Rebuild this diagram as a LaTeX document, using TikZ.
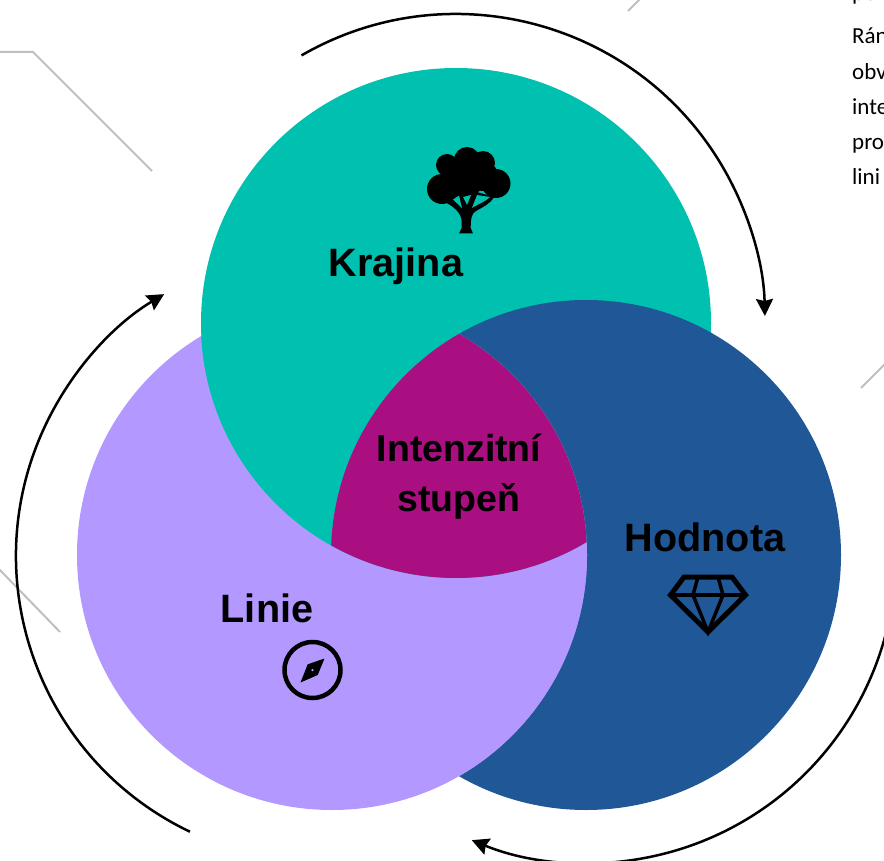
\documentclass[tikz,border=0pt]{standalone}
\usepackage{fontspec}
\setmainfont{Liberation Sans}
\newfontfamily\bodyfont{Carlito}
\usetikzlibrary{arrows.meta}
\definecolor{tealc}{HTML}{00C1B0}
\definecolor{bluec}{HTML}{1F5797}
\definecolor{purplec}{HTML}{B399FF}
\definecolor{magentac}{HTML}{A90F80}
\definecolor{greyc}{HTML}{BFBFBF}
\tikzset{
  vennc/.style={circle,minimum size=510pt,inner sep=0pt,outer sep=0pt},
  cyc/.style={line width=2.5pt,-{Stealth[length=17pt,width=17pt,inset=2pt]}},
  leader/.style={draw=greyc,line width=2pt},
  lab/.style={font=\bfseries\fontsize{39.6pt}{44pt}\selectfont,inner sep=0pt,align=center},
  labi/.style={font=\bfseries\fontsize{37.5pt}{50pt}\selectfont,inner sep=0pt,align=center},
  body/.style={font=\bodyfont\fontsize{23pt}{25pt}\selectfont,anchor=base west,inner sep=0pt},
}
\begin{document}
\begin{tikzpicture}[x=1pt,y=-1pt]
\useasboundingbox (0,0) rectangle (884,861);
\clip (0,0) rectangle (884,861);
% leader lines
\coordinate (la1) at (0,52); \coordinate (la2) at (33,52); \coordinate (la3) at (152,171);
\coordinate (lb1) at (628,11); \coordinate (lb2) at (641,-2);
\coordinate (lc1) at (861,388); \coordinate (lc2) at (886,363);
\coordinate (ld1) at (-2,568); \coordinate (ld2) at (60,632);
\draw[leader] (la1) -- (la2) -- (la3);
\draw[leader] (lb1) -- (lb2);
\draw[leader] (lc1) -- (lc2);
\draw[leader] (ld1) -- (ld2);
% circles
\coordinate (ct) at (456,323);
\coordinate (cb) at (586,555);
\coordinate (cp) at (332,555);
\coordinate (cl) at (321.5,556);
\node[vennc,fill=bluec] (hod) at (cb) {};
\node[vennc,fill=purplec] (lin) at (cp) {};
\node[vennc,fill=tealc] (kra) at (ct) {};
% blue over teal
\begin{scope}
  \clip (ct) circle[radius=256.5pt];
  \fill[bluec] (cb) circle[radius=255pt];
\end{scope}
% purple keeps its own edge over blue, teal its edge over purple
\begin{scope}
  \clip (cb) circle[radius=255pt];
  \clip (cp) circle[radius=255pt];
  \fill[purplec] (0,0) rectangle (884,861);
\end{scope}
\begin{scope}
  \clip (cp) circle[radius=255pt];
  \clip (ct) circle[radius=255pt];
  \fill[tealc] (0,0) rectangle (884,861);
\end{scope}
% centre
\begin{scope}
  \clip (ct) circle[radius=255pt];
  \clip (cb) circle[radius=255pt];
  \fill[magentac] (cp) circle[radius=255pt];
\end{scope}
% cycle arcs
\draw[cyc] (ct) ++(120:309pt) arc[start angle=120,end angle=1.3,radius=309pt];
\draw[cyc] (cb) ++(-15:310pt) arc[start angle=-15,end angle=-112.3,radius=307.5pt];
\draw[cyc] (cl) ++(244.5:305.5pt) arc[start angle=244.5,end angle=121,radius=305.5pt];
% labels
\node[lab] (tk) at (396,266) {Krajina};
\node[labi] (ti) at (459,477) {Intenzitní\\stupeň};
\node[lab] (th) at (705,537) {Hodnota};
\node[lab] (tl) at (267,608) {Linie};
% tree
\fill (467,160) circle[radius=13pt] (447,165) circle[radius=11pt] (483,163) circle[radius=12pt]
      (442,189) circle[radius=15pt] (496,183.5) circle[radius=14.5pt] (467,178) circle[radius=18pt]
      (455,180) circle[radius=14pt] (483,176) circle[radius=15pt];
\fill (459,233.5) -- (473,233.5) -- (470.7,228) .. controls (470.7,218) and (472,213) .. (476,211)
   .. controls (483,207) and (490,204) .. (494,197)
   -- (470,190) -- (450,195) -- (446.7,203) .. controls (452,206) and (461.7,212) .. (461.7,222) -- (461.7,228) -- cycle;
\fill[tealc] (453,199.5) -- (462,208) -- (459,195.5) -- cycle;
\fill[tealc] (463,197) -- (467,205) -- (471,195) -- cycle;
\fill[tealc] (472,208) .. controls (479,203.5) and (485,202) .. (490,197) -- (477,195) -- cycle;
% diamond
\draw[line width=5pt,line join=miter] (684,577) -- (732,577) -- (745.5,595) -- (708,632) -- (670.5,595) -- cycle;
\draw[line width=3.5pt] (670.5,595) -- (745.5,595);
\draw[line width=3.5pt] (698,577) -- (693,595) -- (708,632) -- (723,595) -- (718,577);
% compass
\draw[line width=4.5pt] (312.5,670) circle[radius=28pt];
\fill[even odd rule] (324.5,658.5) -- (317.7,675) -- (300.5,682.5) -- (307.7,664.3) -- cycle (312.5,670) circle[radius=1.5pt];
% cropped page text
\node[body] (p0) at (852,1) {po};
\node[body] (p1) at (852,44) {Rán};
\node[body] (p2) at (852,80) {obv};
\node[body] (p3) at (852,115) {inte};
\node[body] (p4) at (852,150) {pro};
\node[body] (p5) at (852,185) {lini};
\end{tikzpicture}
\end{document}
